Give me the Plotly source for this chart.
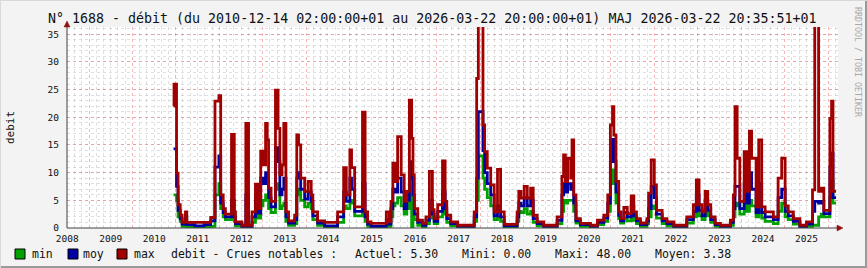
import plotly.graph_objects as go

# ---- data ----
dates = [
    "2010-12-12", "2010-12-16", "2011-01-06", "2011-01-19", "2011-02-06", "2011-02-22", "2011-03-22", "2011-04-02",
    "2011-06-10", "2011-08-25", "2011-10-20", "2011-11-25", "2011-12-28", "2012-01-12", "2012-02-02", "2012-02-20",
    "2012-04-12", "2012-05-05", "2012-05-15", "2012-07-08", "2012-08-10", "2012-09-02", "2012-10-01", "2012-10-30",
    "2012-11-21", "2012-12-13", "2013-01-01", "2013-01-23", "2013-02-06", "2013-02-17", "2013-03-10", "2013-04-16",
    "2013-05-08", "2013-05-23", "2013-06-10", "2013-06-25", "2013-07-13", "2013-08-04", "2013-09-24", "2013-10-12",
    "2013-10-27", "2013-11-14", "2013-12-17", "2014-01-15", "2014-02-10", "2014-02-24", "2014-04-05", "2014-06-03",
    "2014-09-20", "2014-11-10", "2014-12-02", "2015-01-01", "2015-01-15", "2015-02-10", "2015-04-17", "2015-05-09",
    "2015-05-30", "2015-06-28", "2015-11-03", "2015-11-28", "2015-12-12", "2015-12-28", "2016-01-15", "2016-02-06",
    "2016-03-07", "2016-04-01", "2016-04-23", "2016-05-15", "2016-06-03", "2016-06-14", "2016-06-25", "2016-07-24",
    "2016-09-02", "2016-10-01", "2016-10-30", "2016-11-24", "2016-12-09", "2017-01-08", "2017-02-17", "2017-03-11",
    "2017-03-25", "2017-04-27", "2017-06-24", "2017-11-10", "2017-12-01", "2017-12-15", "2018-01-23", "2018-02-06",
    "2018-02-28", "2018-03-29", "2018-04-27", "2018-05-25", "2018-06-20", "2018-07-20", "2018-11-06", "2018-11-20",
    "2018-12-08", "2019-01-04", "2019-01-30", "2019-02-27", "2019-03-21", "2019-04-23", "2019-06-17", "2019-10-08",
    "2019-11-17", "2019-12-01", "2019-12-16", "2020-01-04", "2020-01-30", "2020-02-10", "2020-02-24", "2020-03-14",
    "2020-04-20", "2020-07-13", "2020-09-10", "2020-11-03", "2020-12-06", "2020-12-28", "2021-01-15", "2021-01-26",
    "2021-02-13", "2021-03-08", "2021-03-24", "2021-04-20", "2021-05-19", "2021-06-21", "2021-07-13", "2021-08-04",
    "2021-09-06", "2021-10-31", "2021-11-14", "2021-12-06", "2022-01-01", "2022-01-19", "2022-03-08", "2022-04-17",
    "2022-06-14", "2022-10-01", "2022-11-25", "2022-12-20", "2023-01-12", "2023-02-06", "2023-03-04", "2023-03-26",
    "2023-04-20", "2023-05-27", "2023-07-10", "2023-10-02", "2023-10-27", "2023-11-10", "2023-11-28", "2023-12-20",
    "2024-01-26", "2024-02-17", "2024-03-10", "2024-03-28", "2024-05-05", "2024-05-27", "2024-06-21", "2024-07-20",
    "2024-09-27", "2024-11-06", "2024-12-06", "2025-01-04", "2025-01-30", "2025-03-14", "2025-05-08", "2025-07-02",
    "2025-08-22", "2025-09-10", "2025-10-12", "2025-11-03", "2025-11-25", "2026-01-15", "2026-01-29", "2026-02-10",
    "2026-03-08",
]
max_vals = [
    22.0, 26.0, 9.9, 4.2, 2.3, 1.0, 2.9, 1.0,
    1.0, 1.0, 1.9, 22.9, 23.9, 6.0, 3.5, 2.5,
    16.9, 2.9, 1.1, 0.5, 18.9, 0.5, 2.9, 7.9,
    3.5, 13.9, 11.4, 18.9, 15.9, 7.2, 4.8, 24.9,
    18.0, 9.6, 11.4, 18.9, 2.9, 1.3, 2.3, 16.8,
    15.0, 9.0, 6.6, 8.4, 6.0, 2.9, 1.3, 1.0,
    2.9, 10.9, 6.0, 14.1, 10.9, 3.8, 20.9, 2.9,
    1.1, 0.85, 2.9, 1.1, 4.8, 11.7, 8.4, 16.5,
    9.6, 4.8, 6.6, 23.1, 16.2, 9.6, 3.5, 1.4,
    0.85, 2.0, 10.2, 3.3, 1.7, 4.2, 12.1, 4.8,
    2.3, 1.1, 0.5, 2.9, 27.0, 48.0, 18.6, 13.8,
    10.8, 7.8, 2.9, 10.6, 2.9, 0.66, 2.9, 6.6,
    5.4, 7.5, 5.4, 7.2, 2.3, 1.1, 0.5, 2.0,
    9.3, 13.2, 8.4, 12.6, 9.0, 15.9, 6.0, 1.7,
    0.85, 0.5, 1.4, 2.3, 6.0, 18.6, 21.9, 16.8,
    8.4, 2.9, 1.7, 3.7, 2.6, 5.8, 2.9, 1.7,
    0.9, 1.7, 6.3, 12.3, 7.8, 3.2, 1.7, 1.1,
    0.5, 2.0, 4.2, 8.7, 4.2, 2.9, 6.6, 4.2,
    2.0, 0.85, 0.5, 1.4, 6.0, 21.9, 12.6, 4.8,
    13.8, 6.6, 17.5, 12.6, 3.8, 15.9, 3.8, 2.9,
    2.0, 9.0, 12.6, 4.0, 2.9, 1.7, 0.5, 1.1,
    6.9, 42.0, 6.6, 7.2, 3.2, 19.8, 22.9, 6.6,
    6.6,
]
moy_vals = [
    14.3, 14.3, 7.5, 3.2, 1.7, 0.7, 2.2, 0.6,
    0.4, 0.6, 1.3, 11.0, 13.0, 4.5, 2.8, 2.0,
    5.0, 2.0, 0.8, 0.3, 6.0, 0.3, 2.0, 5.5,
    2.7, 9.0, 8.0, 10.0, 9.0, 5.5, 3.8, 14.5,
    12.0, 6.0, 7.0, 9.0, 2.0, 0.9, 1.5, 9.0,
    10.0, 7.0, 5.2, 6.5, 4.8, 2.2, 0.9, 0.4,
    2.0, 6.5, 4.8, 9.0, 7.0, 3.0, 8.0, 2.0,
    0.7, 0.3, 1.5, 0.7, 3.5, 7.0, 6.5, 9.0,
    6.5, 3.5, 5.0, 12.0, 9.0, 6.0, 2.5, 1.0,
    0.5, 1.4, 5.0, 2.5, 1.2, 3.0, 6.5, 3.5,
    1.7, 0.8, 0.3, 2.0, 9.0, 21.0, 14.0, 10.0,
    8.0, 6.0, 2.2, 4.0, 2.0, 0.4, 2.0, 4.5,
    4.0, 5.5, 4.0, 5.0, 1.7, 0.8, 0.3, 1.4,
    6.0, 8.0, 6.5, 8.0, 7.0, 8.0, 4.5, 1.3,
    0.6, 0.3, 1.0, 1.8, 4.5, 12.0, 16.0, 12.0,
    6.5, 2.3, 1.3, 2.8, 2.0, 4.0, 2.2, 1.3,
    0.6, 1.3, 3.5, 7.5, 5.5, 2.5, 1.3, 0.8,
    0.3, 1.5, 3.0, 6.0, 3.2, 2.2, 5.0, 3.2,
    1.5, 0.6, 0.3, 1.0, 3.5, 7.5, 7.5, 3.5,
    8.0, 4.5, 10.0, 7.0, 2.8, 8.0, 2.8, 2.0,
    1.5, 5.5, 7.0, 3.0, 2.2, 1.2, 0.3, 0.7,
    3.0, 4.8, 4.5, 4.8, 2.6, 11.0, 13.5, 5.5,
    5.5,
]
min_vals = [
    6.0, 6.0, 5.0, 2.0, 1.2, 0.3, 1.5, 0.2,
    0.0, 0.2, 0.3, 6.0, 8.0, 3.5, 2.0, 1.5,
    2.0, 1.2, 0.4, 0.0, 1.0, 0.0, 1.0, 3.0,
    1.8, 4.0, 5.0, 6.0, 5.5, 3.5, 2.8, 8.0,
    7.0, 3.5, 4.0, 4.5, 1.2, 0.5, 0.8, 6.0,
    7.0, 5.0, 3.8, 4.5, 3.5, 1.5, 0.5, 0.1,
    1.0, 4.0, 3.5, 5.0, 4.5, 2.2, 3.0, 1.2,
    0.3, 0.0, 0.5, 0.3, 2.0, 4.0, 4.5, 5.5,
    4.0, 2.5, 3.5, 9.0, 0.0, 3.0, 1.5, 0.5,
    0.2, 0.8, 2.5, 1.8, 0.8, 2.0, 3.5, 2.5,
    1.0, 0.4, 0.1, 1.2, 5.0, 13.0, 9.0, 7.0,
    5.5, 4.0, 1.5, 2.0, 1.2, 0.1, 1.2, 3.0,
    2.8, 3.5, 2.5, 3.0, 1.0, 0.4, 0.1, 0.8,
    3.0, 5.0, 4.5, 5.0, 5.0, 5.0, 3.0, 0.9,
    0.3, 0.1, 0.6, 1.2, 3.0, 8.0, 10.5, 8.0,
    4.5, 1.7, 0.9, 1.8, 1.3, 2.5, 1.4, 0.8,
    0.3, 0.8, 2.0, 4.0, 3.5, 1.8, 0.8, 0.4,
    0.0, 0.9, 2.0, 4.0, 2.2, 1.5, 3.5, 2.2,
    1.0, 0.3, 0.0, 0.5, 2.0, 4.0, 4.5, 2.5,
    5.0, 3.0, 5.0, 4.0, 2.0, 3.0, 1.8, 1.2,
    0.8, 3.0, 4.5, 2.0, 1.5, 0.7, 0.0, 0.3,
    0.5, 0.5, 2.0, 2.5, 2.0, 5.5, 8.5, 4.5,
    4.5,
]

series_names = ["min", "moy", "max"]
series_colors = ["#00A000", "#0000A0", "#A00000"]
y_ticks = [0, 5, 10, 15, 20, 25, 30, 35]

title_text = "N° 1688 - débit (du 2010-12-14 02:00:00+01 au 2026-03-22 20:00:00+01) MAJ 2026-03-22 20:35:51+01"
legend_label = "debit - Crues notables :"
stats = [("Actuel:", "5.30"), ("Mini:", "0.00"), ("Maxi:", "48.00"), ("Moyen:", "3.38")]

MONO = "DejaVu Sans Mono"
W, H = 867, 268
L, R, T, B = 67, 29, 27, 40
PW, PH = W - L - R, H - T - B

fig = go.Figure()
for name, vals, col in zip(series_names, [min_vals, moy_vals, max_vals], series_colors):
    fig.add_trace(go.Scatter(x=dates, y=vals, mode="lines", line=dict(color=col, width=2.8, shape="hv"),
                             name=name, showlegend=False, hoverinfo="skip"))

def px(x):
    return (x - L) / PW

def py(y):
    return (H - B - y) / PH

shapes = []
# axis lines
shapes.append(dict(type="line", xref="paper", yref="paper", x0=0, x1=px(840), y0=0, y1=0,
                   line=dict(color="#404040", width=1)))
shapes.append(dict(type="line", xref="paper", yref="paper", x0=0, x1=0, y0=0, y1=py(24),
                   line=dict(color="#404040", width=1)))
# arrows (dark red)
shapes.append(dict(type="path", xref="paper", yref="paper",
                   path=f"M {px(843)} {py(228)} L {px(837)} {py(225)} L {px(837)} {py(231)} Z",
                   fillcolor="#901010", line=dict(color="#901010", width=0.5)))
shapes.append(dict(type="path", xref="paper", yref="paper",
                   path=f"M {px(67)} {py(21)} L {px(64)} {py(27)} L {px(70)} {py(27)} Z",
                   fillcolor="#901010", line=dict(color="#901010", width=0.5)))
# image frame shading
shapes.append(dict(type="line", xref="paper", yref="paper", x0=px(0), x1=px(W), y0=py(H - 1), y1=py(H - 1),
                   line=dict(color="#9A9A9A", width=2)))
shapes.append(dict(type="line", xref="paper", yref="paper", x0=px(W - 1), x1=px(W - 1), y0=py(0), y1=py(H),
                   line=dict(color="#9A9A9A", width=2)))
shapes.append(dict(type="line", xref="paper", yref="paper", x0=px(0), x1=px(W), y0=py(0.5), y1=py(0.5),
                   line=dict(color="#D8D8D8", width=1)))
shapes.append(dict(type="line", xref="paper", yref="paper", x0=px(0.5), x1=px(0.5), y0=py(0), y1=py(H),
                   line=dict(color="#D8D8D8", width=1)))

annotations = []
annotations.append(dict(text=title_text, xref="paper", yref="paper", x=px(432), y=py(18),
                        xanchor="center", yanchor="middle", showarrow=False,
                        font=dict(family=MONO, size=13.3, color="#101010")))
annotations.append(dict(text="debit", xref="paper", yref="paper", x=px(10), y=py(128), textangle=-90,
                        xanchor="center", yanchor="middle", showarrow=False,
                        font=dict(family=MONO, size=11, color="#101010")))
annotations.append(dict(text="RRDTOOL / TOBI OETIKER", xref="paper", yref="paper", x=px(858), y=py(5),
                        textangle=90, xanchor="center", yanchor="top", showarrow=False,
                        font=dict(family=MONO, size=8.3, color="#A8A8A8")))

# legend
box_x = [15, 68, 117]
txt_x = [30, 81, 132]
for name, col, bx, tx in zip(series_names, series_colors, box_x, txt_x):
    shapes.append(dict(type="rect", xref="paper", yref="paper", x0=px(bx), x1=px(bx + 10), y0=py(249), y1=py(259),
                       fillcolor=col, line=dict(color="#000000", width=1)))
    annotations.append(dict(text=name, xref="paper", yref="paper", x=px(tx), y=py(254), xanchor="left",
                            yanchor="middle", showarrow=False, font=dict(family=MONO, size=11.5, color="#101010")))
annotations.append(dict(text=legend_label, xref="paper", yref="paper", x=px(169), y=py(254), xanchor="left",
                        yanchor="middle", showarrow=False, font=dict(family=MONO, size=11.5, color="#101010")))
for (lab, val), sx in zip(stats, [353, 460, 553, 653]):
    annotations.append(dict(text=f"{lab} {val}", xref="paper", yref="paper", x=px(sx), y=py(254), xanchor="left",
                            yanchor="middle", showarrow=False, font=dict(family=MONO, size=11.5, color="#101010")))

MAJOR = "rgba(240,90,90,0.45)"
MINOR = "rgba(185,185,185,0.45)"

fig.update_layout(
    width=W, height=H, margin=dict(l=L, r=R, t=T, b=B),
    paper_bgcolor="#F3F3F3", plot_bgcolor="#FFFFFF",
    font=dict(family=MONO, size=9.5, color="#101010"),
    shapes=shapes, annotations=annotations, showlegend=False,
    xaxis=dict(type="date", range=["2008-06-30", "2026-03-24"],
               dtick="M12", tick0="2008-01-01", tickformat="%Y", ticklabelmode="period",
               showgrid=True, gridcolor=MAJOR, griddash="dot", gridwidth=1,
               minor=dict(dtick="M2", showgrid=True, gridcolor=MINOR, griddash="dot"),
               showline=False, zeroline=False, ticks="", ticklabelstandoff=3,
               tickfont=dict(family=MONO, size=9.5)),
    yaxis=dict(range=[0, 36.3], tickvals=y_ticks, showgrid=True,
               gridcolor=MAJOR, griddash="dot", gridwidth=1,
               minor=dict(dtick=1, showgrid=True, gridcolor=MINOR, griddash="dot"),
               showline=False, zeroline=False, ticks="", ticklabelstandoff=7,
               tickfont=dict(family=MONO, size=9.5)),
)

fig.write_html("out.html")
